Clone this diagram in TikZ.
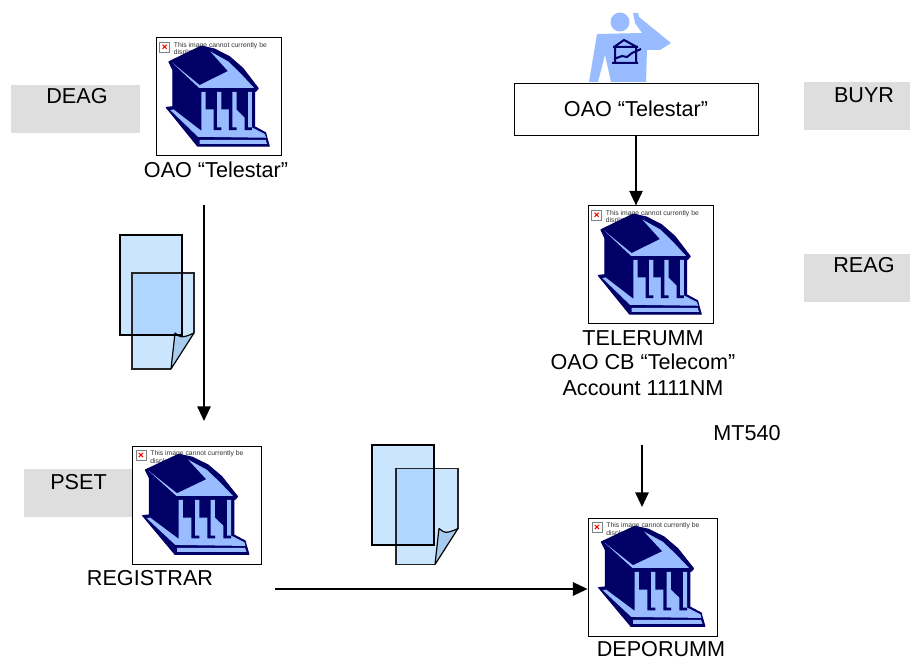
\documentclass[tikz,border=0pt]{standalone}
\usepackage{fontspec}
\setmainfont{Liberation Sans}
\usetikzlibrary{arrows.meta, positioning, calc}

\begin{document}
\begin{tikzpicture}[x=0.75pt, y=-0.75pt,
    imgbox/.style={draw=black, fill=white, line width=0.6pt, inner sep=0pt},
    rolebox/.style={fill=black!13, inner sep=0pt, minimum width=#1*0.75pt, minimum height=36pt},
    label/.style={font=\fontsize{16.2}{18}\selectfont, align=center, inner sep=0pt},
    flow/.style={line width=1.4pt, -{Triangle[length=11pt, width=10pt]}},
    pics/bank/.style={code={
        \begin{scope}[scale=1/3, shift={(-48,-52)}]
            % broken image mark
            \draw[black!50, fill=white, line width=0.3pt] (60,65) rectangle (90,95);
            \draw[red, line width=0.8pt] (69,74) -- (81,86) (69,86) -- (81,74);
            \node[font=\fontsize{5.1}{6}\selectfont, anchor=west, inner sep=0pt, text=black!80] at (102,77) {This image cannot currently be};
            \node[font=\fontsize{5.1}{6}\selectfont, anchor=west, inner sep=0pt, text=black!80] at (102,99) {displayed};
            % building
            \filldraw[bankdark, line width=0.8pt, line join=round] (88,125) -- (185,78) -- (225,87) -- (270,110) -- (310,145) -- (356,205) -- (350,212) -- (345,215) -- (345,320) -- (378,338) -- (381,350) -- (389,378) -- (174,378) -- (80,262) -- (100,260) -- (100,150) -- cycle;
            \fill[banklight] (97,127) -- (178,203) -- (343,203) -- (303,160) -- (266,124) -- (212,94) -- (265,153) -- (180,195) -- cycle;
            \fill[banklight] (92,270) -- (102,268) -- (185,332) -- (185,215) -- (337,215) -- (337,322) -- (345,326) -- (376,342) -- (379,353) -- (175,350) -- cycle;
            \fill[banklight] (180,359) -- (378,359) -- (382,371) -- (180,371) -- cycle;
            \fill[bankdark] (198,212) -- (232,212) -- (232,322) -- (245,322) -- (245,330) -- (222,330) -- (222,268) -- (198,268) -- cycle;
            \fill[bankdark] (245,212) -- (278,212) -- (278,322) -- (291,322) -- (291,330) -- (268,330) -- (268,268) -- (245,268) -- cycle;
            \fill[bankdark] (291,212) -- (325,212) -- (325,322) -- (337,322) -- (337,330) -- (315,330) -- (315,292) -- (291,268) -- cycle;
        \end{scope}
    }},
    pics/sheets/.style 2 args={code={
        \draw[black, fill=sheetfill, line width=0.9pt] (0,0) rectangle (62,100);
        \begin{scope}[shift={(#1,#2)}]
            \fill[sheetfill] (0,0) -- (62,0) -- (62,60) -- (39,96) -- (0,96) -- cycle;
        \end{scope}
        \fill[sheetover] (#1,#2) rectangle (62,100);
        \begin{scope}[shift={(#1,#2)}]
            \draw[black!85, line width=0.9pt] (39,96) -- (0,96) -- (0,0) -- (62,0) -- (62,60);
            \draw[black, fill=sheetfold, line width=0.9pt, line join=round] (62,60) .. controls (56,63) and (50,65) .. (47,63) -- (43,60) -- (39,96) -- cycle;
        \end{scope}
        \draw[black, line width=0.9pt] (0,100) -- (62,100) -- (62,0);
    }}]
    \definecolor{bankdark}{HTML}{000066}
    \definecolor{banklight}{HTML}{99BBFF}
    \definecolor{sheetfill}{HTML}{CCE5FF}
    \definecolor{sheetover}{HTML}{B0D6FF}
    \definecolor{sheetfold}{HTML}{A8CCEE}
    \useasboundingbox (0,0) rectangle (910,659);

    % Role labels
    \node[rolebox=129] (deagbg) at (75.5,109) {};
    \node[rolebox=106] (buyrbg) at (857,106) {};
    \node[rolebox=106] (reagbg) at (857,278) {};
    \node[rolebox=108] (psetbg) at (78,492.5) {};
    \node[label] (deagtxt) at (77,96) {DEAG};
    \node[label] (buyrtxt) at (864,95) {BUYR};
    \node[label] (reagtxt) at (864,265) {REAG};
    \node[label] (psettxt) at (78.5,482) {PSET};

    % Buyer figure
    \fill[banklight] (620,22) circle (9.5);
    \fill[banklight] (597,34) -- (642,33) -- (635,23) -- (633,13) -- (638,13) -- (639,17) -- (671,43) -- (660,50) -- (647,50) -- (646,82) -- (611,82) -- (605,55) -- (598,82) -- (589,82) -- cycle;
    \draw[bankdark, line width=1.5pt] (614,47) -- (624,40) -- (637,47) (613,47) -- (638,47) (615,47) -- (615,63) (636,47) -- (636,63) (612,63) -- (638,63) (614,59) -- (622,56) -- (627,57) -- (632,53) -- (641,49);

    \node[draw=black, fill=white, line width=0.6pt, minimum width=183pt, minimum height=39pt, inner sep=0pt, label] (buyrbox) at (636,109) {OAO “Telestar”};

    % Banks
    \node[imgbox, minimum width=93.75pt, minimum height=88pt] (deag) at (218.5,96.5) {};
    \node[imgbox, minimum width=93.75pt, minimum height=88pt] (reag) at (650.5,264.5) {};
    \node[imgbox, minimum width=96.75pt, minimum height=88.5pt] (pset) at (196.5,505) {};
    \node[imgbox, minimum width=96.75pt, minimum height=88.5pt] (depo) at (652.5,577) {};
    \pic at (deag.north west) {bank};
    \pic at (reag.north west) {bank};
    \pic[xscale=1.032] at (pset.north west) {bank};
    \pic[xscale=1.032] at (depo.north west) {bank};

    \node[label] (deagname) at (216,170) {OAO “Telestar”};
    \node[label] (reagname1) at (643,338) {TELERUMM};
    \node[label] (reagname2) at (643,362) {OAO CB “Telecom”};
    \node[label] (reagname3) at (643,388) {Account 1111NM};
    \node[label] (msgname) at (747,433) {MT540};
    \node[label] (psetname) at (150,578) {REGISTRAR};
    \node[label] (deponame) at (661,649) {DEPORUMM};

    % Documents
    \pic at (120,235) {sheets={12}{38}};
    \pic at (372,445) {sheets={24}{23.5}};

    % Flows
    \coordinate (deagout) at (204,205);
    \coordinate (psetin) at (204,421);
    \coordinate (reagout) at (642,445);
    \coordinate (depoin) at (642,507);
    \coordinate (psetout) at (275,589);
    \draw[flow] (buyrbox.south) -- (buyrbox.south |- reag.north);
    \draw[flow] (deagout) -- (psetin);
    \draw[flow] (reagout) -- (depoin);
    \draw[flow] (psetout) -- (psetout -| depo.west);
\end{tikzpicture}
\end{document}
